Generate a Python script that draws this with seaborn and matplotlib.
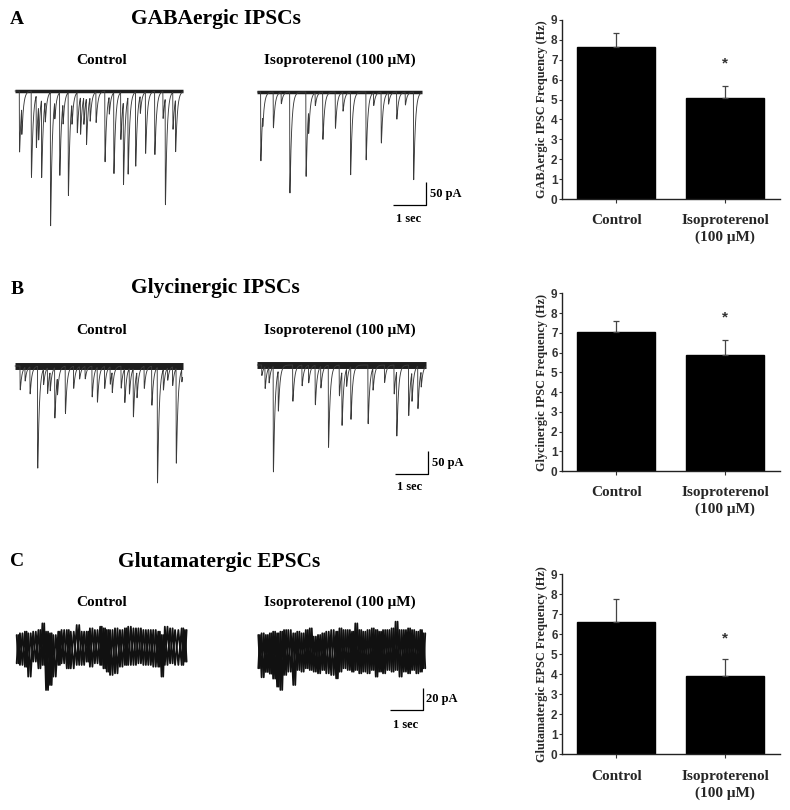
import numpy as np
import pandas as pd
import matplotlib
matplotlib.use("Agg")
import matplotlib.pyplot as plt
import seaborn as sns

sns.set_theme(style="white")
plt.rcParams["font.family"] = ["Liberation Serif", "DejaVu Serif"]

# ---------------------------------------------------------------- data
# Panel A: GABAergic IPSCs, events (time s, amplitude pA, inward/down)
gaba_ctrl_t = [0.13, 0.20, 0.49, 0.64, 0.71, 0.80, 0.91, 1.07, 1.20, 1.35, 1.45, 1.61, 1.72,
               1.88, 1.98, 2.08, 2.16, 2.27, 2.45, 2.72, 2.85, 2.99, 3.20, 3.28, 3.42, 3.65,
               3.79, 3.95, 4.23, 4.48, 4.55, 4.78, 4.86]
gaba_ctrl_amp = [133, 59, 188, 113, 74, 170, 45, 291, 37, 181, 45, 225, 45,
                 88, 81, 59, 101, 52, 67, 154, 38, 177, 103, 181, 168, 162,
                 38, 134, 138, 59, 232, 81, 114]
gaba_ctrl_dur = 5.09
gaba_iso_t = [0.10, 0.16, 0.48, 0.72, 0.98, 1.47, 1.55, 1.75, 1.98, 2.36, 2.59, 2.82, 3.29,
              3.52, 3.75, 3.97, 4.22, 4.48, 4.73]
gaba_iso_amp = [150, 25, 78, 25, 220, 184, 50, 28, 103, 79, 41, 180, 148,
                28, 111, 25, 59, 28, 191]
gaba_iso_dur = 4.98

# Panel B: Glycinergic IPSCs
gly_ctrl_t = [0.15, 0.30, 0.45, 0.68, 0.86, 0.98, 1.06, 1.20, 1.28, 1.52, 1.77, 1.95, 2.12,
              2.33, 2.49, 2.71, 2.88, 2.94, 3.21, 3.32, 3.46, 3.58, 3.69, 3.91, 4.14, 4.31,
              4.49, 4.62, 4.77, 4.88, 5.05]
gly_ctrl_amp = [52, 30, 59, 222, 34, 56, 41, 110, 38, 103, 48, 27, 27,
                67, 76, 48, 38, 45, 48, 74, 56, 105, 56, 48, 85, 252,
                45, 27, 41, 207, 27]
gly_ctrl_dur = 5.08
gly_iso_t = [0.13, 0.23, 0.35, 0.48, 0.63, 1.07, 1.35, 1.55, 1.75, 1.92, 2.15, 2.48, 2.56,
             2.70, 2.83, 3.35, 3.50, 3.85, 4.14, 4.22, 4.58, 4.68, 4.86, 4.96]
gly_iso_amp = [23, 48, 34, 230, 88, 79, 45, 38, 86, 47, 179, 67, 117,
               38, 115, 128, 48, 38, 63, 141, 110, 63, 93, 34]
gly_iso_dur = 5.10

# Panel C: Glutamatergic EPSCs, upper / lower excursions of the noise band (pA)
glu_ctrl_t = [0.02, 0.12, 0.27, 0.37, 0.52, 0.68, 0.80, 0.91, 1.03, 1.13, 1.28, 1.38, 1.54,
              1.66, 1.84, 1.99, 2.14, 2.24, 2.39, 2.55, 2.65, 2.75, 2.85, 3.00, 3.15, 3.30,
              3.40, 3.56, 3.71, 3.86, 4.01, 4.16, 4.31, 4.41, 4.51, 4.67, 4.82, 5.02, 5.12]
glu_ctrl_hi = [13.6, 15.2, 16.7, 15.2, 16.7, 18.2, 24.2, 16.7, 15.2, 13.6, 16.7, 18.2, 18.2,
               16.7, 22.7, 16.7, 16.7, 19.7, 18.2, 21.2, 19.7, 18.2, 18.2, 19.7, 18.2, 19.7,
               21.2, 19.7, 19.7, 18.2, 18.2, 18.2, 16.7, 13.6, 21.2, 19.7, 18.2, 19.7, 18.2]
glu_ctrl_lo = [-12.1, -13.6, -15.2, -24.2, -10.6, -16.7, -13.6, -36.4, -31.8, -24.2, -13.6,
               -12.1, -16.7, -16.7, -13.6, -13.6, -10.6, -15.2, -12.1, -13.6, -16.7, -19.7,
               -22.7, -21.2, -15.2, -13.6, -13.6, -13.6, -12.1, -13.6, -13.6, -15.2, -15.2,
               -24.2, -13.6, -12.1, -13.6, -13.6, -10.6]
glu_iso_t = [0.03, 0.13, 0.26, 0.38, 0.48, 0.60, 0.70, 0.81, 0.94, 1.09, 1.21, 1.34, 1.47,
             1.59, 1.71, 1.84, 1.97, 2.09, 2.24, 2.39, 2.49, 2.61, 2.74, 2.87, 2.97, 3.09,
             3.21, 3.34, 3.47, 3.59, 3.69, 3.81, 3.94, 4.07, 4.19, 4.31, 4.44, 4.57, 4.69,
             4.82, 4.94, 5.04]
glu_iso_hi = [15.5, 17.0, 15.5, 17.0, 18.5, 17.0, 18.5, 20.0, 20.0, 17.0, 18.5, 17.0, 20.0,
              21.5, 14.0, 15.5, 17.0, 18.5, 20.0, 18.5, 21.5, 20.0, 20.0, 18.5, 26.0, 20.0,
              18.5, 20.0, 21.5, 20.0, 18.5, 20.0, 20.0, 21.5, 27.6, 20.0, 20.0, 21.5, 20.0,
              18.5, 20.0, 17.0]
glu_iso_lo = [-14.8, -23.0, -18.2, -19.7, -24.2, -31.5, -34.5, -20.9, -17.9, -30.0, -16.4,
              -17.9, -14.8, -16.4, -17.9, -19.4, -16.4, -19.4, -20.9, -24.0, -17.9, -14.8,
              -16.4, -17.9, -16.4, -19.4, -17.9, -19.4, -16.4, -22.4, -17.9, -19.4, -16.4,
              -17.9, -16.4, -22.4, -17.9, -19.4, -16.4, -19.4, -17.9, -14.8]

# Bar charts: frequency (Hz) mean and SEM
bar_categories = ["Control", "Isoproterenol\n(100 μM)"]
gaba_freq = [7.62, 5.06]
gaba_sem = [0.71, 0.62]
gly_freq = [7.03, 5.88]
gly_sem = [0.55, 0.76]
glu_freq = [6.63, 3.92]
glu_sem = [1.12, 0.85]

# ---------------------------------------------------------------- layout helpers
W, H = 790, 810
fig = plt.figure(figsize=(W / 100, H / 100), dpi=100)
PPS = 33.0  # pixels per second
TRACE_COLOR = "#3a3a3a"
BAND_COLOR = "#1e1e1e"


def box(l, t, r, b):
    return [l / W, 1 - b / H, (r - l) / W, (b - t) / H]


def ftext(x, y, s, size, ha="center", va="center", **kw):
    fig.text(x / W, 1 - y / H, s, fontsize=size, ha=ha, va=va,
             fontweight="bold", color="black", **kw)


def trace_axes(x0, y0, ppa, up=30, down=150, left=4, right=185):
    ax = fig.add_axes(box(x0 - left, y0 - up, x0 + right, y0 + down))
    ax.set_xlim(-left / PPS, right / PPS)
    ax.set_ylim(-down / ppa, up / ppa)
    ax.axis("off")
    return ax


def ipsc_trace(ax, ev_t, ev_amp, dur, band_lw):
    t = np.arange(0, dur, 0.002)
    y = np.zeros_like(t)
    tr, td = 0.003, 0.05
    tp = tr * td / (td - tr) * np.log(td / tr)
    norm = np.exp(-tp / td) - np.exp(-tp / tr)
    for te, a in zip(ev_t, ev_amp):
        m = t >= te
        s = t[m] - te
        y[m] -= a * (np.exp(-s / td) - np.exp(-s / tr)) / norm
    # noisy baseline band
    ax.plot([0, dur], [0, 0], color=BAND_COLOR, lw=band_lw, solid_capstyle="butt")
    sns.lineplot(x=t, y=y, ax=ax, color=TRACE_COLOR, lw=0.65, estimator=None, sort=False)


def noise_trace(ax, tt, hi, lo):
    tt = np.asarray(tt)
    nxt = np.append(tt[1:], tt[-1] + 0.1)
    mid = (tt + nxt) / 2
    x = np.empty(2 * len(tt))
    x[0::2], x[1::2] = tt, mid
    y1 = np.empty(2 * len(tt))
    y1[0::2], y1[1::2] = hi, lo
    y2 = np.empty(2 * len(tt))
    y2[0::2], y2[1::2] = lo, hi
    sns.lineplot(x=x, y=y1, ax=ax, color="#111111", lw=1.3, estimator=None, sort=False)
    sns.lineplot(x=x, y=y2, ax=ax, color="#111111", lw=1.3, estimator=None, sort=False)


def scale_bar(ax, t_end, y_lo, amp):
    ax.plot([t_end - 1, t_end, t_end], [y_lo, y_lo, y_lo + amp],
            color="black", lw=0.9, clip_on=False, solid_capstyle="butt")


def bar_panel(top, bottom, vals, errs, ylabel, star_y):
    ax = fig.add_axes(box(561.7, top, 780, bottom))
    df = pd.DataFrame({"cond": bar_categories, "freq": vals})
    sns.barplot(data=df, x="cond", y="freq", color="black", saturation=1,
                width=0.715, edgecolor="black", ax=ax, errorbar=None)
    ax.errorbar([0, 1], vals, yerr=[[0, 0], errs], fmt="none", ecolor="#444",
                elinewidth=0.9, capsize=2.2, capthick=0.9)
    ax.set_xlim(-0.5, 1.5)
    ax.set_ylim(0, 9)
    ax.set_yticks(range(10))
    ax.set_yticklabels([str(i) for i in range(10)], fontfamily="Liberation Sans",
                       fontweight="bold", fontsize=8.5, color="#333")
    for lab in ax.get_xticklabels():
        lab.set_fontweight("bold")
        lab.set_fontsize(11)
        lab.set_linespacing(1.35)
    ax.set_xlabel("")
    ax.set_ylabel(ylabel, fontsize=8.8, fontweight="bold", labelpad=2)
    ax.tick_params(axis="y", direction="out", length=2, width=0.8, pad=1, color="#333", left=True)
    ax.tick_params(axis="x", direction="out", length=3, width=0.8, pad=8, color="#333", bottom=True)
    sns.despine(ax=ax)
    for sp in ("left", "bottom"):
        ax.spines[sp].set_color("#222")
        ax.spines[sp].set_linewidth(1.0)
    ax.text(1, star_y, "*", ha="center", va="center", fontsize=11, fontweight="bold",
            fontfamily="Liberation Sans", color="#333")
    return ax


# ---------------------------------------------------------------- Row A
ftext(17, 20, "A", 14)
ftext(216, 19, "GABAergic IPSCs", 15.5)
ftext(102, 60, "Control", 11)
ftext(340, 60, "Isoproterenol (100 μM)", 11)
ax = trace_axes(15, 91, 0.46)
ipsc_trace(ax, gaba_ctrl_t, gaba_ctrl_amp, gaba_ctrl_dur, 2.5)
ax = trace_axes(257.3, 92, 0.46)
ipsc_trace(ax, gaba_iso_t, gaba_iso_amp, gaba_iso_dur, 2.5)
scale_bar(ax, (426 - 257.3) / PPS, (92 - 205) / 0.46, 50)
ftext(430, 194, "50 pA", 9, ha="left")
ftext(409, 219, "1 sec", 9)
bar_panel(20, 199, gaba_freq, gaba_sem, "GABAergic IPSC Frequency (Hz)", 6.83)

# ---------------------------------------------------------------- Row B
ftext(17, 289, "B", 14)
ftext(215, 288, "Glycinergic IPSCs", 15.5)
ftext(102, 330, "Control", 11)
ftext(340, 330, "Isoproterenol (100 μM)", 11)
ax = trace_axes(15, 366, 0.46)
ipsc_trace(ax, gly_ctrl_t, gly_ctrl_amp, gly_ctrl_dur, 5.0)
ax = trace_axes(257.3, 365, 0.46)
ipsc_trace(ax, gly_iso_t, gly_iso_amp, gly_iso_dur, 5.0)
scale_bar(ax, (427.7 - 257.3) / PPS, (365 - 474) / 0.46, 50)
ftext(432, 463, "50 pA", 9, ha="left")
ftext(410, 487, "1 sec", 9)
bar_panel(293.3, 471, gly_freq, gly_sem, "Glycinergic IPSC Frequency (Hz)", 7.77)

# ---------------------------------------------------------------- Row C
ftext(17, 562, "C", 14)
ftext(219, 562, "Glutamatergic EPSCs", 15.5)
ftext(102, 602, "Control", 11)
ftext(340, 602, "Isoproterenol (100 μM)", 11)
ax = trace_axes(16, 650, 1.1, up=40, down=70)
noise_trace(ax, glu_ctrl_t, glu_ctrl_hi, glu_ctrl_lo)
ax = trace_axes(257.3, 652, 1.1, up=40, down=70)
noise_trace(ax, glu_iso_t, glu_iso_hi, glu_iso_lo)
scale_bar(ax, (422.7 - 257.3) / PPS, (652 - 710) / 1.1, 20)
ftext(426, 699, "20 pA", 9, ha="left")
ftext(406, 725, "1 sec", 9)
bar_panel(574.3, 754.3, glu_freq, glu_sem, "Glutamatergic EPSC Frequency (Hz)", 5.8)

fig.savefig("out.png", dpi=100, facecolor="white")
